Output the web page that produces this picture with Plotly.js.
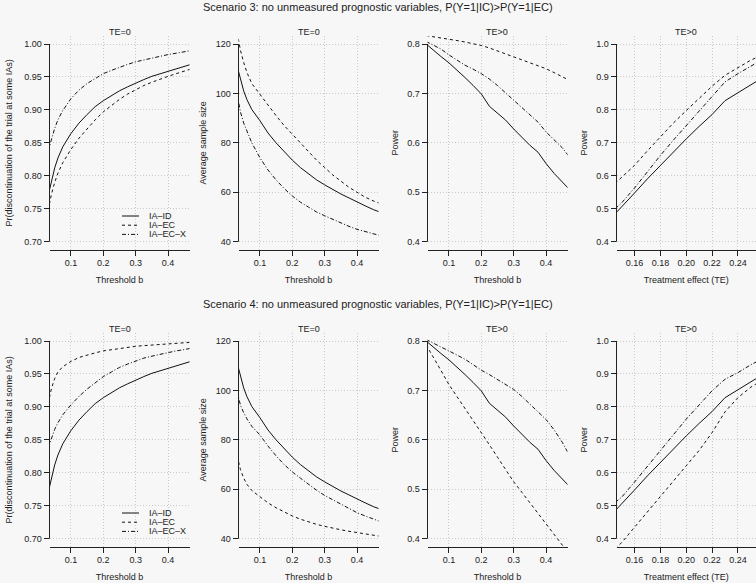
<!DOCTYPE html>
<html><head><meta charset="utf-8">
<script src="https://cdn.plot.ly/plotly-3.0.1.min.js"></script>
<style>html,body{margin:0;padding:0;background:#f7f7f7}</style>
</head><body><div id="chart" style="width:756px;height:583px"></div>
<script>
// ---------- data ----------
const thresholdB = [0.03, 0.04, 0.05, 0.06, 0.075, 0.10, 0.125, 0.15, 0.175, 0.20, 0.225, 0.25, 0.275, 0.30, 0.325, 0.35, 0.375, 0.40, 0.425, 0.45, 0.47];
const treatmentEffect = [0.145, 0.15, 0.16, 0.17, 0.18, 0.19, 0.20, 0.21, 0.22, 0.23, 0.24, 0.25, 0.255];

const seriesNames = ['IA\u2013ID', 'IA\u2013EC', 'IA\u2013EC\u2013X'];

// Pr(discontinuation) at TE=0
const prStopID   = [0.770,0.793,0.812,0.827,0.844,0.864,0.880,0.893,0.905,0.914,0.922,0.929,0.935,0.941,0.946,0.951,0.955,0.959,0.963,0.966,0.969];
const prStopEC3  = [0.748,0.772,0.790,0.804,0.820,0.840,0.857,0.871,0.885,0.897,0.907,0.916,0.924,0.931,0.937,0.942,0.947,0.951,0.955,0.959,0.962];
const prStopECX3 = [0.838,0.856,0.872,0.885,0.899,0.917,0.930,0.940,0.948,0.955,0.960,0.965,0.969,0.973,0.976,0.979,0.982,0.984,0.986,0.988,0.990];
const prStopEC4  = [0.905,0.928,0.943,0.953,0.961,0.969,0.975,0.979,0.982,0.985,0.987,0.989,0.991,0.992,0.993,0.994,0.995,0.996,0.997,0.997,0.998];
const prStopECX4 = [0.838,0.853,0.866,0.876,0.888,0.903,0.916,0.927,0.937,0.946,0.953,0.960,0.965,0.970,0.974,0.977,0.980,0.983,0.985,0.987,0.989];

// Average sample size at TE=0
const sizeID   = [111,105.5,101,97.5,93.5,89,84,80,76.5,73,70,67.5,65,63,61,59.3,57.7,56,54.5,53,52];
const sizeEC3  = [124.5,117.5,112.5,108.5,104,99.5,95,91,87,83.5,80,76.5,73,70,67,64.5,62,60,58,56.5,55.5];
const sizeECX3 = [99.5,92.5,88,84.5,80,74,69,65,61.5,58.5,56,54,52,50.5,49,47.5,46.2,45,44,43,42.5];
const sizeEC4  = [73.5,68,64.5,62,59.5,57,54.5,52.5,50.7,49.2,47.9,46.8,45.8,45,44.2,43.6,43,42.4,41.9,41.4,41];
const sizeECX4 = [99.5,94,91,88.5,85.5,82,77.5,73.5,70,67,64.5,62,59.6,57.5,55.7,54,52.2,50.5,49.2,48,47];

// Power vs threshold b at TE>0
const powBID   = [0.800,0.794,0.788,0.783,0.775,0.762,0.748,0.732,0.716,0.699,0.674,0.660,0.646,0.628,0.611,0.595,0.581,0.558,0.538,0.522,0.507];
const powBEC3  = [0.817,0.816,0.815,0.814,0.813,0.810,0.807,0.804,0.801,0.797,0.792,0.786,0.780,0.774,0.768,0.762,0.756,0.750,0.742,0.734,0.727];
const powBECX3 = [0.805,0.802,0.798,0.795,0.790,0.778,0.767,0.757,0.749,0.740,0.729,0.716,0.701,0.686,0.672,0.657,0.642,0.622,0.606,0.590,0.573];
const powBEC4  = [0.792,0.780,0.769,0.758,0.741,0.712,0.688,0.663,0.639,0.615,0.590,0.565,0.540,0.515,0.494,0.473,0.453,0.430,0.410,0.388,0.370];
const powBECX4 = [0.803,0.800,0.796,0.793,0.788,0.780,0.772,0.763,0.752,0.741,0.732,0.722,0.712,0.702,0.688,0.673,0.657,0.641,0.620,0.595,0.571];

// Power vs treatment effect
const powTID   = [0.485,0.505,0.548,0.591,0.632,0.673,0.712,0.750,0.786,0.828,0.852,0.877,0.888];
const powTEC3  = [0.577,0.595,0.632,0.676,0.719,0.760,0.798,0.836,0.872,0.905,0.929,0.951,0.960];
const powTECX3 = [0.500,0.518,0.563,0.614,0.662,0.708,0.753,0.797,0.840,0.885,0.910,0.934,0.944];
const powTEC4  = [0.370,0.388,0.435,0.481,0.527,0.573,0.620,0.668,0.722,0.785,0.828,0.860,0.872];
const powTECX4 = [0.510,0.526,0.572,0.620,0.667,0.715,0.763,0.806,0.849,0.884,0.904,0.928,0.938];

// ticks and labels
const bTicks = [0.1, 0.2, 0.3, 0.4];
const teTicks = [0.16, 0.18, 0.20, 0.22, 0.24];
const prTicks = [0.70, 0.75, 0.80, 0.85, 0.90, 0.95, 1.00];
const sizeTicks = [40, 60, 80, 100, 120];
const powBTicks = [0.4, 0.5, 0.6, 0.7, 0.8];
const powTTicks = [0.4, 0.5, 0.6, 0.7, 0.8, 0.9, 1.0];

const scenarioTitles = [
  'Scenario 3: no unmeasured prognostic variables, P(Y=1|IC)>P(Y=1|EC)',
  'Scenario 4: no unmeasured prognostic variables, P(Y=1|IC)>P(Y=1|EC)'
];
const panelTitles = ['TE=0', 'TE=0', 'TE>0', 'TE>0'];
const yTitles = ['Pr(discontinuation of the trial at some IAs)', 'Average sample size', 'Power', 'Power'];
const xTitles = ['Threshold b', 'Threshold b', 'Threshold b', 'Treatment effect (TE)'];

// ---------- build ----------
const W = 756, H = 583;
const ROW_OFF = 297;
const INK = '#222';
const dashStyles = ['solid', '3px,3px', '4px,2px,1px,2px'];
const FONT = 'Liberation Sans, Arial, Helvetica, sans-serif';
const yStandoff = [10, 7, 7, 7];

function ext(lo, hi) { const d = (hi - lo) * 0.04; return [lo - d, hi + d]; }

const colSpecs = [
  {x: thresholdB, xTicks: bTicks, xRange: ext(0.05, 0.45), xFmt: '.1f', yTicks: prTicks, yFmt: '.2f'},
  {x: thresholdB, xTicks: bTicks, xRange: ext(0.05, 0.45), xFmt: '.1f', yTicks: sizeTicks, yFmt: 'd'},
  {x: thresholdB, xTicks: bTicks, xRange: ext(0.05, 0.45), xFmt: '.1f', yTicks: powBTicks, yFmt: '.1f'},
  {x: treatmentEffect, xTicks: teTicks, xRange: ext(0.15, 0.25), xFmt: '.2f', yTicks: powTTicks, yFmt: '.1f'}
];
const rowSeries = [
  [[prStopID, prStopEC3, prStopECX3], [sizeID, sizeEC3, sizeECX3], [powBID, powBEC3, powBECX3], [powTID, powTEC3, powTECX3]],
  [[prStopID, prStopEC4, prStopECX4], [sizeID, sizeEC4, sizeECX4], [powBID, powBEC4, powBECX4], [powTID, powTEC4, powTECX4]]
];

const traces = [];
const layout = {
  width: W, height: H,
  margin: {l: 0, r: 0, t: 0, b: 0},
  paper_bgcolor: '#f7f7f7', plot_bgcolor: '#f7f7f7',
  font: {family: FONT, size: 9, color: INK},
  showlegend: false,
  shapes: [], annotations: []
};

for (let r = 0; r < 2; r++) {
  const top = 36.1 + r * ROW_OFF, bot = 249.6 + r * ROW_OFF;
  for (let c = 0; c < 4; c++) {
    const n = r * 4 + c + 1;
    const sfx = n === 1 ? '' : String(n);
    const spec = colSpecs[c];
    const left = 49.5 + 189 * c, right = Math.min(189.5 + 189 * c, W);
    const yr = ext(spec.yTicks[0], spec.yTicks[spec.yTicks.length - 1]);

    layout['xaxis' + sfx] = {
      domain: [left / W, right / W], range: spec.xRange, anchor: 'y' + sfx,
      tickvals: spec.xTicks, tickformat: spec.xFmt,
      showline: true, linecolor: INK, linewidth: 1, mirror: false,
      ticks: 'outside', ticklen: 5, tickwidth: 1, tickcolor: INK,
      showgrid: true, gridcolor: '#c9c9c9', griddash: '1px,2px', gridwidth: 1,
      zeroline: false, automargin: false, fixedrange: true,
      tickfont: {size: 9, color: INK},
      title: {text: xTitles[c], font: {size: 9, color: INK}, standoff: 9}
    };
    layout['yaxis' + sfx] = {
      domain: [1 - bot / H, 1 - top / H], range: yr, anchor: 'x' + sfx,
      tickvals: spec.yTicks, tickformat: spec.yFmt,
      showline: false, ticks: 'outside', ticklen: 5, tickwidth: 1, tickcolor: INK,
      showgrid: true, gridcolor: '#c9c9c9', griddash: '1px,2px', gridwidth: 1,
      zeroline: false, automargin: false, fixedrange: true,
      tickfont: {size: 9, color: INK},
      title: {text: yTitles[c], font: {size: 9, color: INK}, standoff: yStandoff[c]}
    };
    // R-style y axis line spanning first to last tick
    layout.shapes.push({
      type: 'line', xref: 'x' + sfx + ' domain', yref: 'y' + sfx,
      x0: 0, x1: 0, y0: spec.yTicks[0], y1: spec.yTicks[spec.yTicks.length - 1],
      line: {color: INK, width: 1}
    });
    // panel title
    layout.annotations.push({
      xref: 'paper', yref: 'paper', x: ((left + right) / 2) / W, y: 1 - (32 + r * ROW_OFF) / H,
      xanchor: 'center', yanchor: 'middle', showarrow: false,
      text: panelTitles[c], font: {size: 9, color: INK}
    });
    rowSeries[r][c].forEach((ys, i) => {
      traces.push({
        type: 'scatter', mode: 'lines', x: spec.x, y: ys, name: seriesNames[i],
        xaxis: 'x' + sfx, yaxis: 'y' + sfx,
        line: {color: '#111', width: 1, dash: dashStyles[i]},
        hoverinfo: 'skip'
      });
    });
  }
  // scenario title
  layout.annotations.push({
    xref: 'paper', yref: 'paper', x: 0.5, y: 1 - (7.5 + r * ROW_OFF) / H,
    xanchor: 'center', yanchor: 'middle', showarrow: false,
    text: scenarioTitles[r], font: {size: 11, color: INK}
  });
  // legend (R style, no box)
  seriesNames.forEach((nm, i) => {
    const ly = 216 + 9.2 * i + r * ROW_OFF;
    layout.shapes.push({
      type: 'line', xref: 'paper', yref: 'paper',
      x0: 122 / W, x1: 139 / W, y0: 1 - ly / H, y1: 1 - ly / H,
      line: {color: '#111', width: 1, dash: dashStyles[i]}
    });
    layout.annotations.push({
      xref: 'paper', yref: 'paper', x: 146.5 / W, y: 1 - ly / H,
      xanchor: 'left', yanchor: 'middle', showarrow: false,
      text: nm, font: {size: 9, color: INK}
    });
  });
}

Plotly.newPlot('chart', traces, layout, {staticPlot: true, displayModeBar: false});
</script>
</body></html>
